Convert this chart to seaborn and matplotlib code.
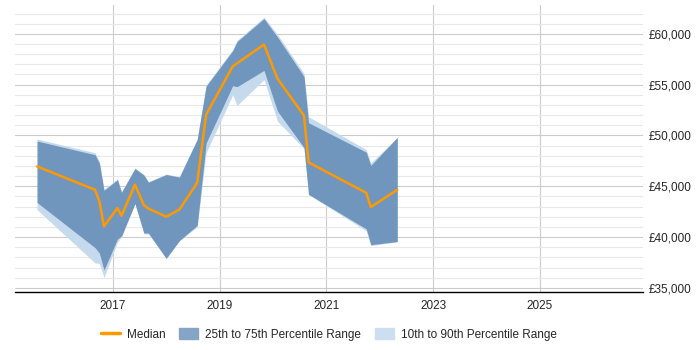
import matplotlib

matplotlib.use("Agg")
import matplotlib.dates as mdates
import matplotlib.pyplot as plt
import matplotlib.ticker as ticker
import pandas as pd
import seaborn as sns
from matplotlib.lines import Line2D
from matplotlib.patches import Patch

# Data
dates = [
    "2015-08-01", "2016-09-01", "2016-10-01", "2016-11-01", "2017-02-01",
    "2017-03-01", "2017-06-01", "2017-08-01", "2017-09-01", "2018-01-01",
    "2018-04-01", "2018-08-01", "2018-10-01", "2019-04-01", "2019-05-01",
    "2019-11-01", "2020-02-01", "2020-08-01", "2020-09-01", "2021-10-01",
    "2021-11-01", "2022-05-01",
]
median = [
    46950, 44650, 43500, 41050, 42850, 42100, 45150, 43150, 42800, 42000,
    42700, 45350, 52050, 56800, 57100, 58950, 55600, 51950, 47350, 44350,
    42950, 44650,
]
p25 = [
    43400, 38950, 38400, 36750, 39800, 40100, 43300, 40400, 40400, 37900,
    39650, 41150, 49250, 54900, 54800, 56400, 52400, 48800, 44200, 40800,
    39250, 39550,
]
p75 = [
    49450, 48100, 47250, 44600, 45650, 44400, 46750, 46100, 45400, 46150,
    45900, 49600, 54850, 58350, 59250, 61500, 59700, 55800, 51250, 48350,
    47050, 49800,
]
p10 = [
    42700, 37450, 37400, 36000, 39500, 40000, 43300, 40300, 40300, 37900,
    39650, 41000, 48300, 54000, 52950, 55500, 51400, 48700, 44200, 40600,
    39150, 39550,
]
p90 = [
    49650, 48300, 47400, 44700, 45700, 44450, 46800, 46150, 45450, 46200,
    45950, 49650, 54950, 58450, 59350, 61650, 59950, 56100, 51850, 48600,
    47300, 49800,
]
tick_years = [2017, 2019, 2021, 2023, 2025]

DARK = "#7096be"
LIGHT = "#c6daee"
ORANGE = "#ff9900"

data = pd.DataFrame(
    {
        "date": pd.to_datetime(dates),
        "median": median,
        "p10": p10,
        "p25": p25,
        "p75": p75,
        "p90": p90,
    }
)

sns.set_style("whitegrid")
plt.rcParams["font.family"] = ["Liberation Sans", "DejaVu Sans"]

fig = plt.figure(figsize=(7, 3.5), dpi=100)
ax = fig.add_axes([0.021, 0.166, 0.898, 0.82])

ax.fill_between(data["date"], data["p10"], data["p90"], color=LIGHT, lw=0)
ax.fill_between(data["date"], data["p25"], data["p75"], color=DARK, lw=0)
sns.lineplot(data, x="date", y="median", color=ORANGE, lw=1.8, ax=ax)

ax.set_xlim(pd.Timestamp("2015-03-01"), pd.Timestamp("2026-12-10"))
ax.set_ylim(34600, 62850)
ax.set_xlabel("")
ax.set_ylabel("")

ax.set_xticks([pd.Timestamp(f"{y}-01-01") for y in tick_years])
ax.xaxis.set_major_formatter(mdates.DateFormatter("%Y"))
ax.yaxis.set_major_locator(ticker.MultipleLocator(5000))
ax.yaxis.set_minor_locator(ticker.MultipleLocator(1000))
ax.yaxis.set_major_formatter(ticker.FuncFormatter(lambda v, p: f"£{v:,.0f}"))
ax.yaxis.tick_right()

ax.grid(which="major", axis="both", color="#cccccc", lw=0.8)
ax.grid(which="minor", axis="y", color="#e8e8e8", lw=0.8)
ax.set_axisbelow(True)

for side in ["top", "left", "right"]:
    ax.spines[side].set_visible(False)
ax.spines["bottom"].set_color("black")
ax.spines["bottom"].set_linewidth(1.0)

ax.tick_params(axis="x", length=4, color="black", labelsize=8.5, pad=2)
ax.tick_params(axis="y", which="both", length=0, labelsize=8.5, pad=4)

handles = [
    Line2D([0], [0], color=ORANGE, lw=2.5),
    Patch(color="#86a4c4"),
    Patch(color="#ccdff0"),
]
labels = ["Median", "25th to 75th Percentile Range", "10th to 90th Percentile Range"]
fig.legend(
    handles,
    labels,
    loc="center",
    bbox_to_anchor=(0.47, 0.045),
    ncol=3,
    frameon=False,
    fontsize=8.5,
    handlelength=1.6,
    handleheight=1.1,
    columnspacing=1.2,
    handletextpad=0.6,
)

fig.savefig("out.png", dpi=100)
